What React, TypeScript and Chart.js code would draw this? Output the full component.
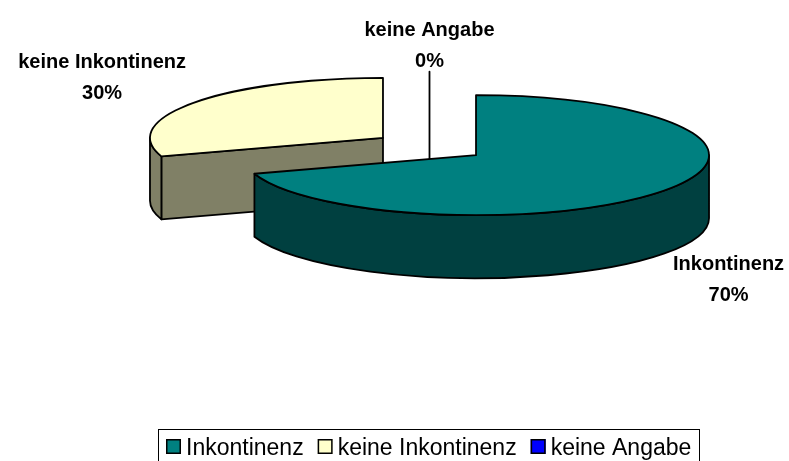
import React, { useEffect, useRef } from 'react';
import { Chart, registerables } from 'chart.js';

Chart.register(...registerables);

// ---- data ----
const categories = ['Inkontinenz', 'keine Inkontinenz', 'keine Angabe'];
const values = [70, 30, 0];
const topColors = ['#008080', '#FFFFCC', '#0000FF'];
const sideColors = ['#004040', '#808066', '#000080'];

// ---- layout / style ----
const W = 789;
const H = 461;
const CENTER_X = 429.5;
const CENTER_Y = 146.5;
const RADIUS = 233;
const TILT = 0.2575;
const DEPTH = 63;
const EXPLODE = 57.5;
const LW = 1.8;
const LABEL_GAP = 10.5;
const LABEL_FONT = 'bold 20px "Liberation Sans", Arial, sans-serif';
const LABEL_LINE = 31;
const LEGEND_FONT = '23px "Liberation Sans", Arial, sans-serif';
const LEGEND_TOP = 429;
const LEGEND_CX = 429;

const pie3d = {
  id: 'pie3d',
  beforeDatasetsDraw(chart: any) {
    const ctx: CanvasRenderingContext2D = chart.ctx;
    const meta = chart.getDatasetMeta(0);
    const arcs = meta.data;
    if (!arcs.length) return false;
    const cx0 = arcs[0].x;
    const cy0 = arcs[0].y;
    const slices = arcs.map((arc: any, i: number) => {
      const p = arc.getProps(['x', 'y', 'startAngle', 'endAngle', 'outerRadius'], true);
      const mid = (p.startAngle + p.endAngle) / 2;
      const ex = Math.cos(mid) * EXPLODE;
      const ey = Math.sin(mid) * EXPLODE;
      const sx = CENTER_X + (p.x + ex - cx0);
      const sy = CENTER_Y + (p.y + ey - cy0) * TILT;
      return { arc, i, s: p.startAngle, e: p.endAngle, mid, ex, ey, sx, sy, r: p.outerRadius };
    });
    const order = [...slices].sort((a, b) => a.sy - b.sy);
    ctx.save();
    ctx.lineJoin = 'round';
    ctx.lineCap = 'round';
    ctx.strokeStyle = '#000';
    ctx.lineWidth = LW;
    for (const sl of order) {
      const { sx, sy, r, s, e } = sl;
      const ry = r * TILT;
      const pt = (a: number) => [sx + r * Math.cos(a), sy + ry * Math.sin(a)];
      if (e - s < 1e-9) {
        const [px, py] = pt(s);
        ctx.beginPath();
        ctx.moveTo(px, py);
        ctx.lineTo(sx, sy);
        ctx.lineTo(sx, sy + DEPTH);
        ctx.stroke();
        continue;
      }
      ctx.fillStyle = sideColors[sl.i];
      // radial faces
      const faces: number[] = [];
      if (Math.cos(s) < -1e-6) faces.push(s);
      if (Math.cos(e) > 1e-6) faces.push(e);
      for (const a of faces) {
        const [px, py] = pt(a);
        ctx.beginPath();
        ctx.moveTo(sx, sy);
        ctx.lineTo(px, py);
        ctx.lineTo(px, py + DEPTH);
        ctx.lineTo(sx, sy + DEPTH);
        ctx.closePath();
        ctx.fill();
        ctx.stroke();
      }
      // outer rim (front half only)
      for (let n = -1; n <= 2; n++) {
        const a = Math.max(s, 2 * Math.PI * n);
        const b = Math.min(e, 2 * Math.PI * n + Math.PI);
        if (b - a > 1e-6) {
          ctx.beginPath();
          ctx.ellipse(sx, sy, r, ry, 0, a, b, false);
          ctx.ellipse(sx, sy + DEPTH, r, ry, 0, b, a, true);
          ctx.closePath();
          ctx.fill();
          ctx.stroke();
        }
      }
      // top face via library arc element
      ctx.save();
      ctx.translate(CENTER_X, CENTER_Y);
      ctx.scale(1, TILT);
      ctx.translate(-cx0 + sl.ex, -cy0 + sl.ey);
      sl.arc.draw(ctx);
      ctx.restore();
      const [px, py] = pt(s);
      ctx.beginPath();
      ctx.moveTo(sx, sy);
      ctx.lineTo(px, py);
      ctx.ellipse(sx, sy, r, ry, 0, s, e, false);
      ctx.closePath();
      ctx.stroke();
    }

    // data labels
    const data: number[] = chart.data.datasets[0].data;
    const total = data.reduce((t, v) => t + v, 0);
    ctx.fillStyle = '#000';
    ctx.font = LABEL_FONT;
    ctx.textAlign = 'center';
    ctx.textBaseline = 'alphabetic';
    for (const sl of slices) {
      const lines = [String(chart.data.labels[sl.i]), Math.round((data[sl.i] / total) * 100) + '%'];
      const halfW = Math.max(...lines.map((t) => ctx.measureText(t).width)) / 2;
      const halfH = 25;
      const c = Math.cos(sl.mid);
      const sn = Math.sin(sl.mid);
      const ax = sl.sx + (sl.r + LABEL_GAP) * c;
      const ay = sl.sy + (sl.r + LABEL_GAP) * TILT * sn;
      const cx = ax + (Math.abs(c) > 0.05 ? Math.sign(c) * halfW : 0);
      const cy = sn > 0.05 ? ay + DEPTH + halfH : ay - halfH + 2;
      ctx.fillText(lines[0], cx, cy - 10);
      ctx.fillText(lines[1], cx, cy - 10 + LABEL_LINE);
    }
    ctx.restore();
    return false;
  },
  afterDraw(chart: any) {
    const ctx: CanvasRenderingContext2D = chart.ctx;
    const labels: string[] = chart.data.labels;
    const colors: string[] = chart.data.datasets[0].backgroundColor;
    ctx.save();
    ctx.font = LEGEND_FONT;
    const box = 15;
    const boxGap = 5;
    const itemGap = 14;
    const pad = 8;
    const widths = labels.map((t) => ctx.measureText(t).width);
    const inner = widths.reduce((t, w) => t + box + boxGap + w, 0) + itemGap * (labels.length - 1);
    const total = inner + pad * 2;
    const left = Math.round(LEGEND_CX - total / 2);
    ctx.strokeStyle = '#000';
    ctx.lineWidth = 1;
    ctx.strokeRect(left + 0.5, LEGEND_TOP + 0.5, Math.round(total), 40);
    let x = left + pad;
    ctx.textAlign = 'left';
    ctx.textBaseline = 'alphabetic';
    labels.forEach((t, i) => {
      ctx.fillStyle = colors[i];
      ctx.fillRect(x, LEGEND_TOP + 10, box, box);
      ctx.strokeStyle = '#000';
      ctx.lineWidth = 1.5;
      ctx.strokeRect(x + 0.75, LEGEND_TOP + 10.75, box - 1.5, box - 1.5);
      ctx.fillStyle = '#000';
      ctx.fillText(t, x + box + boxGap, LEGEND_TOP + 26);
      x += box + boxGap + widths[i] + itemGap;
    });
    ctx.restore();
  },
};

export default function App() {
  const ref = useRef<HTMLCanvasElement>(null);
  useEffect(() => {
    if (!ref.current) return;
    const chart = new Chart(ref.current, {
      type: 'pie',
      data: {
        labels: categories,
        datasets: [
          {
            data: values,
            backgroundColor: topColors,
            borderWidth: 0,
            offset: 0,
          } as any,
        ],
      },
      options: {
        responsive: false,
        animation: false,
        devicePixelRatio: 1,
        radius: RADIUS,
        events: [],
        layout: { padding: 0 },
        plugins: {
          legend: { display: false },
          tooltip: { enabled: false },
        },
      } as any,
      plugins: [pie3d],
    });
    return () => chart.destroy();
  }, []);
  return (
    <div style={{ position: 'absolute', left: 0, top: 0, width: W, height: H, background: '#fff' }}>
      <canvas ref={ref} width={W} height={H} style={{ display: 'block' }} />
    </div>
  );
}
